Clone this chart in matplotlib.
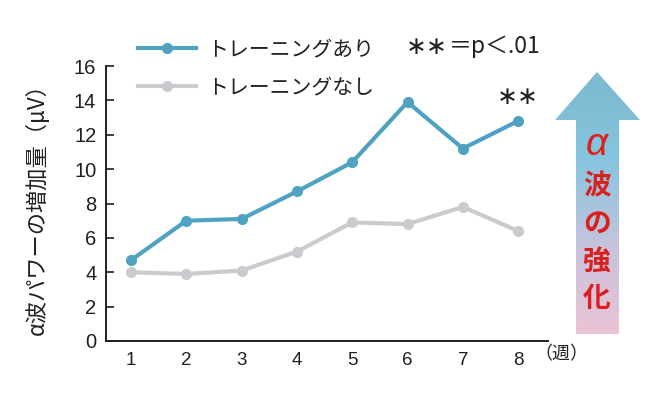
import numpy as np
import matplotlib
matplotlib.use("Agg")
import matplotlib.pyplot as plt
from matplotlib.patches import Polygon
from matplotlib.colors import LinearSegmentedColormap

plt.rcParams['font.family'] = ['Liberation Sans', 'Noto Sans CJK JP', 'DejaVu Sans']

weeks      = [1, 2, 3, 4, 5, 6, 7, 8]
training   = [4.7, 7.0, 7.1, 8.7, 10.4, 13.9, 11.2, 12.8]
no_train   = [4.0, 3.9, 4.1, 5.2, 6.9, 6.8, 7.8, 6.4]
y_ticks    = [0, 2, 4, 6, 8, 10, 12, 14, 16]
labels     = ['トレーニングあり', 'トレーニングなし']

col_blue = '#4FA3C1'
col_gray = '#C9CBCE'
col_axis = '#231F20'

W, H = 663, 393
fig = plt.figure(figsize=(W/100, H/100), dpi=100)
ax = fig.add_axes([106/W, 1-341/H, (548-106)/W, (341-66)/H])

l1, = ax.plot(weeks, training, '-o', color=col_blue, lw=3, ms=7, zorder=3)
l2, = ax.plot(weeks, no_train, '-o', color=col_gray, lw=3, ms=7, zorder=2)

ax.set_xlim(0.548, 8.54)
ax.set_ylim(0, 16)
ax.set_yticks(y_ticks)
ax.set_xticks(weeks)
ax.spines['top'].set_visible(False)
ax.spines['right'].set_visible(False)
for s in ('left', 'bottom'):
    ax.spines[s].set_color(col_axis)
    ax.spines[s].set_linewidth(1.4)
ax.tick_params(axis='y', direction='in', length=6, width=1.2, color=col_axis,
               labelsize=14.5, pad=7, labelcolor=col_axis)
ax.tick_params(axis='x', length=0, labelsize=13.5, pad=8, labelcolor=col_axis)

ax.set_ylabel('α波パワーの増加量（μV）', fontsize=16, color=col_axis,
              family=['Noto Sans CJK JP'], labelpad=18)

# significance marker
ast = dict(fontsize=18, color=col_axis, family=['DejaVu Sans'], va='center')
ax.text(8, 14.2, '∗∗', ha='center', **ast)
ax.text(8.3, -0.75, '（週）', ha='left', va='center', fontsize=13, color=col_axis,
        family=['Noto Sans CJK JP'], clip_on=False)

leg = ax.legend([l1, l2], labels, loc='upper left', bbox_to_anchor=(119/W, 1-20/H),
                bbox_transform=fig.transFigure, frameon=False,
                handlelength=2.8, handletextpad=0.55, labelspacing=0.75,
                prop={'family': ['Noto Sans CJK JP'], 'size': 15})
for t in leg.get_texts():
    t.set_color(col_axis)

fig.text(406/W, 1-47/H, '∗∗', ha='left', **ast)
fig.text(449/W, 1-47/H, '＝p＜.01', fontsize=16.5, va='center', ha='left',
         color=col_axis, family=['Noto Sans CJK JP'])

# gradient arrow
ax2 = fig.add_axes([0, 0, 1, 1], zorder=-1)
ax2.set_xlim(0, W)
ax2.set_ylim(H, 0)
ax2.axis('off')
cmap = LinearSegmentedColormap.from_list('arr', ['#7DB9CF', '#86C5DF', '#C7C3DC', '#EBC3D6'])
grad = np.linspace(0, 1, 256).reshape(-1, 1)
im = ax2.imshow(grad, cmap=cmap, aspect='auto', extent=(555, 640, 334, 72))
arrow = Polygon([(597, 72), (640, 120), (619, 120), (619, 334), (576, 334),
                 (576, 120), (555, 120)], closed=True, transform=ax2.transData,
                facecolor='none', edgecolor='none')
ax2.add_patch(arrow)
im.set_clip_path(arrow)

ax2.text(597, 145, 'α', ha='center', va='center', fontsize=28, color='#D9201F',
         style='italic', family=['Liberation Sans'])
for ch, yy in zip(['波', 'の', '強', '化'], [186, 224, 262, 299]):
    ax2.text(597, yy, ch, ha='center', va='center', fontsize=20, color='#D9201F',
             family=['Noto Sans CJK JP'], fontweight='bold')

fig.savefig('out.png', dpi=100)
